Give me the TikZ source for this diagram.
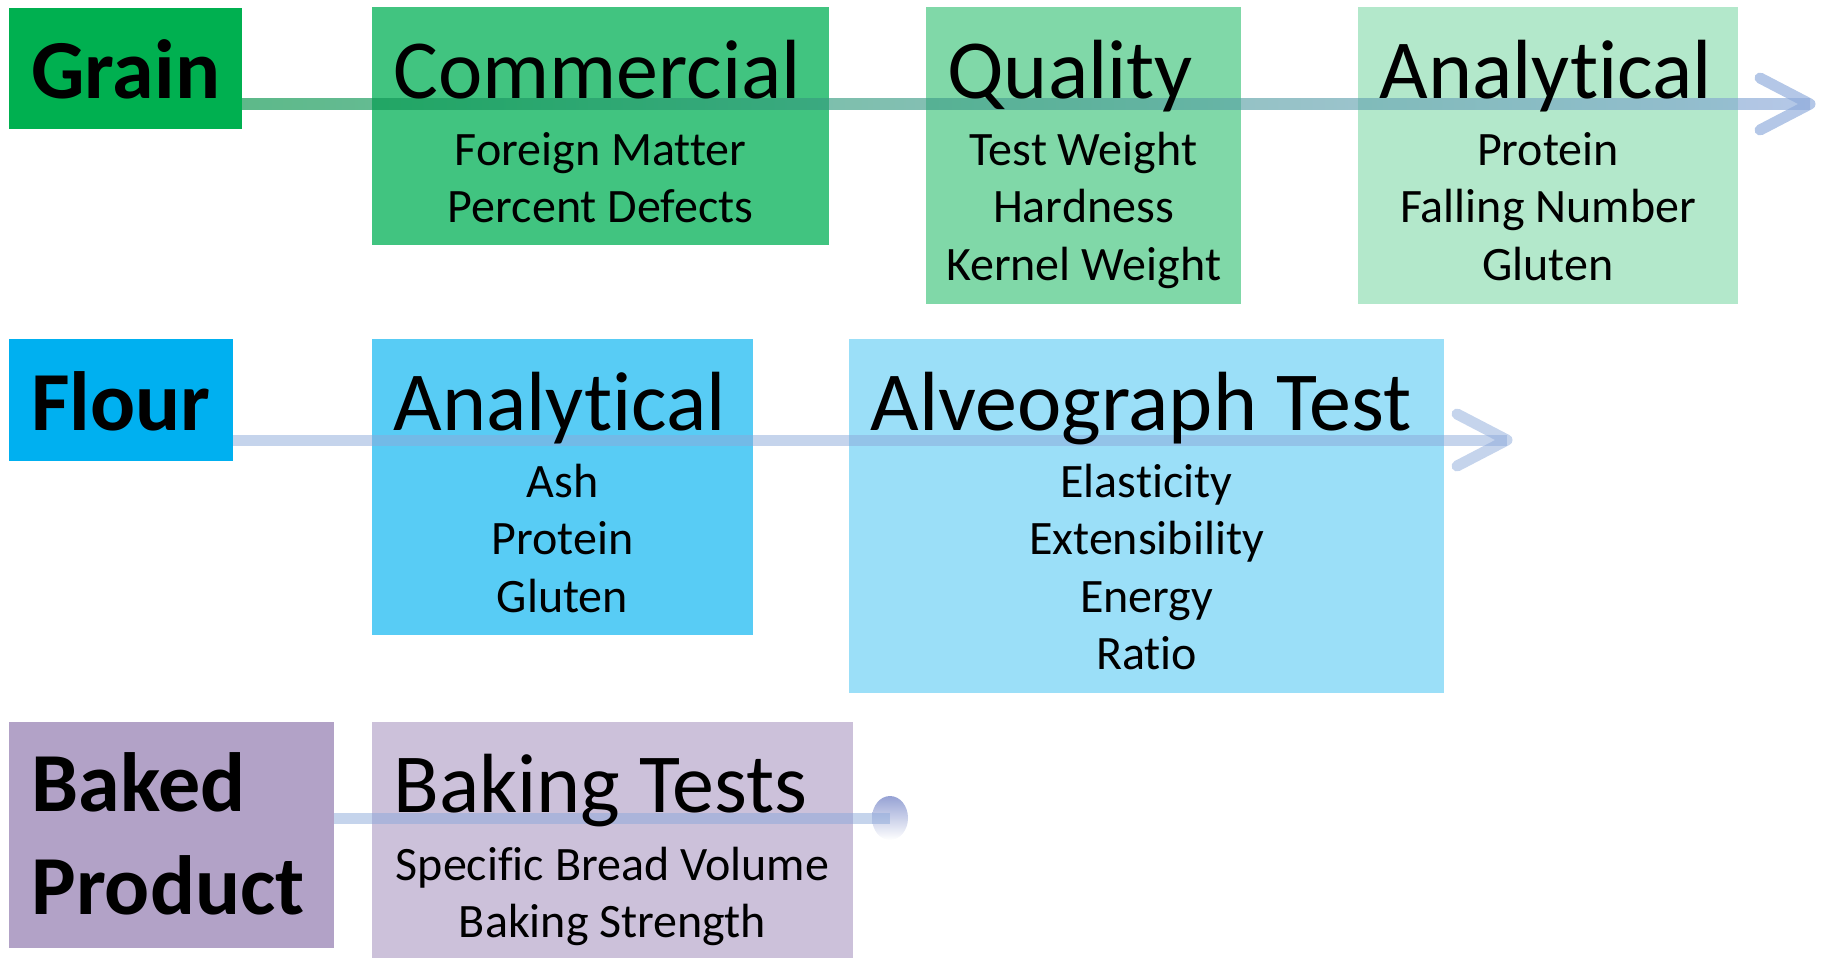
\documentclass[tikz,border=0pt]{standalone}
\usepackage{fontspec}
\setmainfont{Carlito}[Ligatures=NoCommon]
\usetikzlibrary{fit,shapes.geometric}
\definecolor{grainc}{HTML}{00B050}
\definecolor{commc}{HTML}{41C480}
\definecolor{qualc}{HTML}{80D8A8}
\definecolor{ganac}{HTML}{B3E8CB}
\definecolor{flourc}{HTML}{00B0F0}
\definecolor{fanac}{HTML}{58CCF5}
\definecolor{alvc}{HTML}{9BDFF8}
\definecolor{bakedc}{HTML}{B2A2C7}
\definecolor{testc}{HTML}{CCC1DA}
\definecolor{lgreen}{RGB}{6,148,75}
\definecolor{lblue}{RGB}{140,169,218}
\definecolor{dotc}{RGB}{150,162,212}
% first line of a stacked list sits on the node base
\newcommand{\testlist}[2][c]{\begin{tabular}[t]{@{}#1@{}}#2\end{tabular}}

\begin{document}
\begin{tikzpicture}[x=0.5pt,y=-0.5pt]
\tikzstyle{box}=[inner sep=0pt, outer sep=0pt, draw=none]
\tikzstyle{head}=[font=\fontsize{42}{52}\selectfont, anchor=base west, inner sep=0pt]
\tikzstyle{cat}=[head, font=\fontsize{42}{51.8}\selectfont\bfseries]
\tikzstyle{items}=[font=\fontsize{24}{28.8}\selectfont, anchor=base, inner sep=0pt]
\tikzstyle{ahead}=[line width=5.5pt, line cap=round, line join=round, draw=lblue]
\useasboundingbox (0,0) rectangle (1824,958);

% boxes
\node[box, fill=grainc, fit={(9,8) (242,129)}] (grain) {};
\node[box, fill=commc, fit={(372,7) (829,245)}] (comm) {};
\node[box, fill=qualc, fit={(926,7) (1241,304)}] (qual) {};
\node[box, fill=ganac, fit={(1358,7) (1738,304)}] (gana) {};
\node[box, fill=flourc, fit={(9,339) (233,461)}] (flour) {};
\node[box, fill=fanac, fit={(372,339) (753,635)}] (fana) {};
\node[box, fill=alvc, fit={(849,339) (1444,693)}] (alveo) {};
\node[box, fill=bakedc, fit={(9,722) (334,948)}] (baked) {};
\node[box, fill=testc, fit={(372,722) (853,958)}] (bake) {};

% flow lines
\coordinate (gtip) at (1810,104);
\coordinate (gstart) at (grain.east |- gtip);
\shade[left color=lgreen, right color=lblue, fill opacity=0.65]
  ([yshift=2.75pt]gstart) rectangle ([yshift=-2.75pt]gtip);
\draw[ahead, draw opacity=0.65] ([shift={(-50,-26)}]gtip) -- (gtip) -- ([shift={(-50,26)}]gtip);

\coordinate (ftip) at (1507,440);
\coordinate (fstart) at (flour.east |- ftip);
\fill[lblue, fill opacity=0.5]
  ([yshift=2.75pt]fstart) rectangle ([yshift=-2.75pt]ftip);
\draw[ahead, draw opacity=0.5] ([shift={(-50,-26)}]ftip) -- (ftip) -- ([shift={(-50,26)}]ftip);

\node[ellipse, minimum width=18pt, minimum height=22pt, inner sep=0pt,
  top color=dotc, bottom color=white] (bdot) at (890,818) {};
\coordinate (bstart) at (baked.east |- bdot);
\fill[lblue, fill opacity=0.5]
  ([yshift=2.75pt]bstart) rectangle ([yshift=-2.75pt]bdot.center);

% texts
\node[cat] (tgrain) at ([shift={(11pt,-45pt)}]grain.north west) {Grain};
\node[cat] (tflour) at ([shift={(11pt,-45.5pt)}]flour.north west) {Flour};
\node[cat] (tbaked) at ([shift={(11pt,-44.5pt)}]baked.north west) {\testlist[l]{Baked\\Product}};

\node[head] (tcomm) at ([shift={(10.5pt,-45.5pt)}]comm.north west) {Commercial};
\node[head] (tqual) at ([shift={(10.5pt,-45.5pt)}]qual.north west) {Quality};
\node[head] (tgana) at ([shift={(10.5pt,-45.5pt)}]gana.north west) {Analytical};
\node[head] (tfana) at ([shift={(10.5pt,-45.5pt)}]fana.north west) {Analytical};
\node[head] (talveo) at ([shift={(10.5pt,-45.5pt)}]alveo.north west) {Alveograph Test};
\node[head] (tbake) at ([shift={(10.5pt,-45pt)}]bake.north west) {Baking Tests};

\node[items] (icomm) at ([yshift=-79pt]comm.north) {\testlist{Foreign Matter\\Percent Defects}};
\node[items] (iqual) at ([yshift=-79pt]qual.north) {\testlist{Test Weight\\Hardness\\Kernel Weight}};
\node[items] (igana) at ([yshift=-79pt]gana.north) {\testlist{Protein\\Falling Number\\Gluten}};
\node[items] (ifana) at ([yshift=-79pt]fana.north) {\testlist{Ash\\Protein\\Gluten}};
\node[items] (ialveo) at ([yshift=-79pt]alveo.north) {\testlist{Elasticity\\Extensibility\\Energy\\Ratio}};
\node[items] (ibake) at ([yshift=-79pt]bake.north) {\testlist{Specific Bread Volume\\Baking Strength}};
\end{tikzpicture}
\end{document}
